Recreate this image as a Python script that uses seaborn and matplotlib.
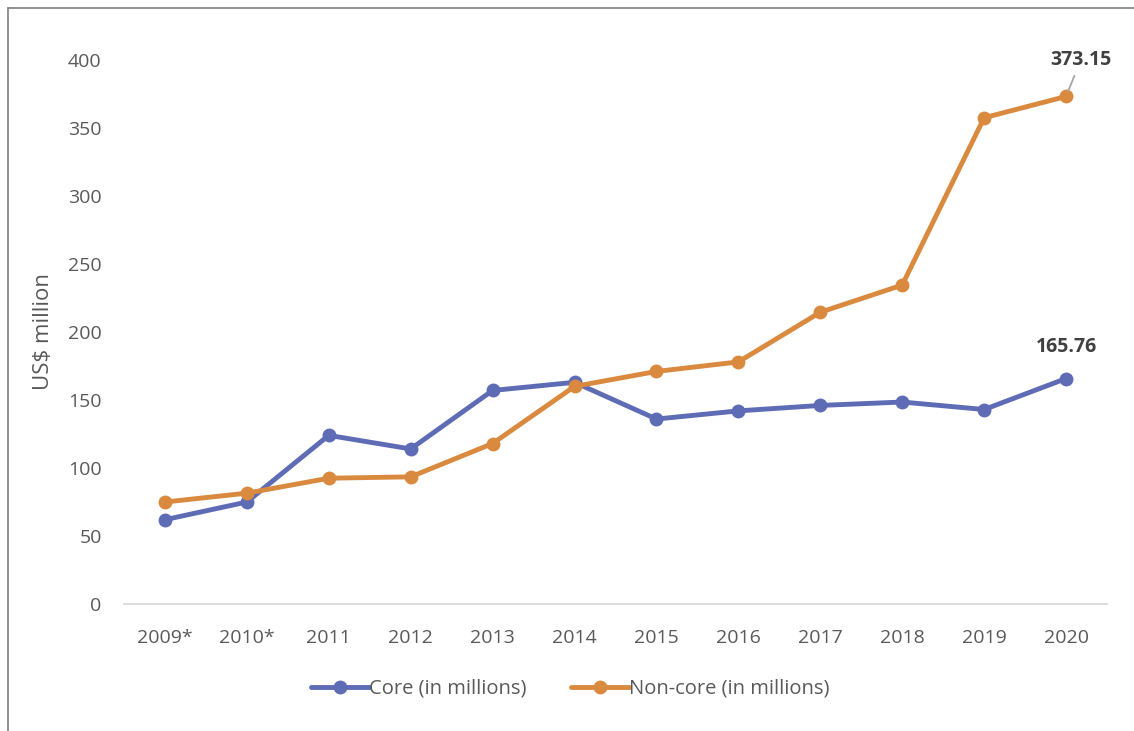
import pandas as pd
import seaborn as sns
import matplotlib.pyplot as plt
from matplotlib.lines import Line2D

years = ["2009*", "2010*", "2011", "2012", "2013", "2014", "2015", "2016",
         "2017", "2018", "2019", "2020"]
core = [62, 75, 124, 114, 157, 163, 136, 142, 146, 148.5, 143, 165.76]
non_core = [75, 81.5, 92.5, 93.5, 118, 160, 171, 178, 214.5, 234.5, 357.5, 373.15]
series_names = ["Core (in millions)", "Non-core (in millions)"]
colors = ["#5E6BB5", "#DA8A3F"]

df = pd.DataFrame({
    "year": years * 2,
    "value": core + non_core,
    "series": [series_names[0]] * len(years) + [series_names[1]] * len(years),
})

sns.set_theme(style="white")
plt.rcParams['font.family'] = ['Open Sans', 'DejaVu Sans']

fig = plt.figure(figsize=(11.34, 7.31), dpi=100)
ax = fig.add_axes([0.1093, 0.1737, 0.8669, 0.7443])

sns.lineplot(data=df, x="year", y="value", hue="series", palette=colors,
             marker="o", markersize=10, markeredgewidth=0, linewidth=3.5,
             sort=False, ax=ax, legend=False)

ax.set_ylim(0, 400)
ax.set_xlim(-0.5, len(years) - 0.5)
ax.set_yticks(range(0, 401, 50))
ax.set_xlabel("")
ax.set_ylabel("US$ million", fontsize=16, color="#595959", labelpad=10)
ax.tick_params(axis="both", labelsize=14, colors="#595959", length=0)
ax.tick_params(axis="x", pad=18)
ax.tick_params(axis="y", pad=16)
for s in ["top", "right", "left"]:
    ax.spines[s].set_visible(False)
ax.spines["bottom"].set_color("#D9D9D9")
ax.spines["bottom"].set_linewidth(1.3)

# data labels on last points
last = len(years) - 1
ax.annotate(f"{non_core[-1]:.2f}", xy=(last, non_core[-1]), xytext=(last + 0.18, 400),
            ha="center", va="center", fontsize=14, fontweight="bold", color="#404040",
            arrowprops=dict(arrowstyle="-", color="#A6A6A6", lw=1.3, shrinkA=2, shrinkB=4))
ax.text(last, core[-1] + 16, f"{core[-1]:.2f}", ha="center", va="bottom",
        fontsize=14, fontweight="bold", color="#404040")

handles = [Line2D([], [], color=c, lw=3.5, marker="o", markersize=10, markeredgewidth=0)
           for c in colors]
fig.legend(handles, series_names, loc="center", bbox_to_anchor=(0.503, 0.058), ncol=2,
           frameon=False, fontsize=14.5, labelcolor="#595959", handlelength=2.9,
           handletextpad=0.0, columnspacing=2.2)

# chart frame (left and top edges visible)
fig.add_artist(Line2D([0.007, 0.007], [0, 0.989], color="#7F7F7F", lw=1.2,
                      transform=fig.transFigure))
fig.add_artist(Line2D([0.007, 1], [0.989, 0.989], color="#7F7F7F", lw=1.2,
                      transform=fig.transFigure))

fig.savefig("out.png", dpi=100, facecolor="white")
